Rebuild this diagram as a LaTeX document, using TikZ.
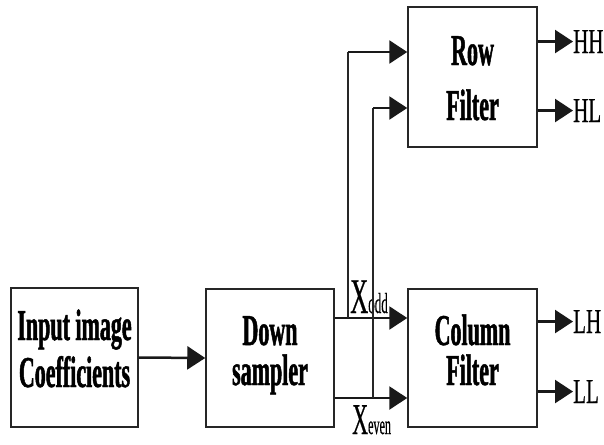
\documentclass[tikz,border=0pt]{standalone}
\usepackage{fontspec}
\setmainfont{Liberation Serif}
\newfontfamily\boxf{Liberation Serif Bold}[FakeStretch=0.5, FakeBold=1.1]
\newfontfamily\labf{Liberation Serif}[FakeStretch=0.6, FakeBold=0.4]
\newfontfamily\xf{Liberation Serif}[FakeStretch=0.5, FakeBold=0.4]
\newfontfamily\subf{Liberation Serif}[FakeStretch=0.45, FakeBold=0.3]
\usetikzlibrary{arrows.meta}
\lineskiplimit=-100pt
\begin{document}
\begin{tikzpicture}[x=1pt,y=-1pt,
  box/.style={draw=black!85, line width=1.5pt, inner sep=0pt},
  boxtxt/.style={font=\boxf\fontsize{44}{40}\selectfont,
    align=center, inner sep=0pt, anchor=base},
  outlab/.style={font=\labf\fontsize{35}{35}\selectfont, inner sep=0pt, anchor=base west},
  xlab/.style={inner sep=0pt, anchor=base west},
  hline/.style={line width=2.5pt, draw=black!90},
  vline/.style={line width=1.3pt, draw=black!85},
  arr/.style={-{Triangle[length=18pt,width=23pt]}}
]
\fill[white] (0,0) rectangle (604,444);
\useasboundingbox (0,0) rectangle (604,444);

% boxes
\node[box, minimum width=127pt, minimum height=139pt] (inp) at (74.5,357.5) {};
\node[box, minimum width=128pt, minimum height=138pt] (ds) at (270,358) {};
\node[box, minimum width=129pt, minimum height=140pt] (row) at (472.5,77) {};
\node[box, minimum width=129pt, minimum height=138pt] (col) at (472.5,358) {};

% box texts
\node[boxtxt] (inpt) at (74.5,387) {Input image\\[7pt]Coefficients};
\node[boxtxt] (dst) at (270,385) {Down\\sampler};
\node[boxtxt] (rowt) at (472.5,120) {Row\\[15pt]Filter};
\node[boxtxt] (colt) at (472.5,385) {Column\\Filter};

% output labels
\node[outlab] (hh) at (573,53) {HH};
\node[outlab] (hl) at (573,122) {HL};
\node[outlab] (lh) at (573,333) {LH};
\node[outlab] (ll) at (573,403) {LL};

% X labels
\node[xlab] (xodd) at (350,313) {\xf\fontsize{50}{50}\selectfont X\subf\fontsize{29}{29}\selectfont odd};
\node[xlab] (xeven) at (352,434) {\xf\fontsize{44}{44}\selectfont X\subf\fontsize{27}{27}\selectfont even};

% junction coordinates
\coordinate (j1) at (348,318);
\coordinate (j2) at (373,398);
\coordinate (t1) at (348,52);
\coordinate (t2) at (373,108);

% connectors
\draw[hline, arr] (inp.east) -- (ds.west);
\draw[hline, arr] (ds.east |- j1) -- (col.west |- j1);
\draw[hline, arr] (ds.east |- j2) -- (col.west |- j2);
\draw[vline] (j1) -- (t1);
\draw[vline] (j2) -- (t2);
\draw[hline, arr] (t1) -- (row.west |- t1);
\draw[hline, arr] (t2) -- (row.west |- t2);

\draw[hline, arr] (row.east |- hh.west) -- (hh.west);
\draw[hline, arr] (row.east |- hl.west) -- (hl.west);
\draw[hline, arr] (col.east |- lh.west) -- (lh.west);
\draw[hline, arr] (col.east |- ll.west) -- (ll.west);
\end{tikzpicture}
\end{document}
